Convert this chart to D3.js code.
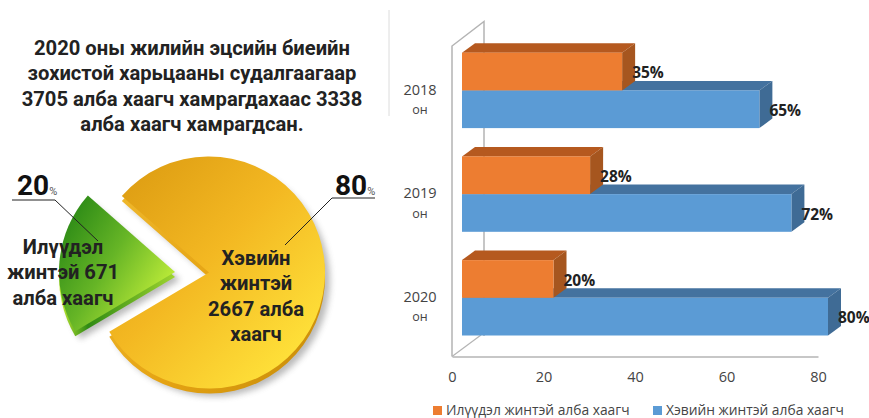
<!DOCTYPE html>
<html>
<head>
<meta charset="utf-8">
<script src="https://cdn.jsdelivr.net/npm/d3@7"></script>
<style>
html, body { margin: 0; padding: 0; background: #fff; }
svg { display: block; }
text { font-family: Roboto, sans-serif; }
</style>
</head>
<body>
<svg class="chart" width="869" height="418"></svg>
<script>
const titleLines = [
    '2020 оны жилийн эцсийн биеийн',
    'зохистой харьцааны судалгаагаар',
    '3705 алба хаагч хамрагдахаас 3338',
    'алба хаагч хамрагдсан.'
];

// pie
const pieShares = [80, 20];
const pieLabels = [
    ['Хэвийн', 'жинтэй', '2667 алба', 'хаагч'],
    ['Илүүдэл', 'жинтэй 671', 'алба хаагч']
];

// bars
const years = ['2018', '2019', '2020'];
const yearUnit = 'он';
const overweight = [35, 28, 20];
const normal = [65, 72, 80];
const xTicks = [0, 20, 40, 60, 80];
const legendLabels = ['Илүүдэл жинтэй алба хаагч', 'Хэвийн жинтэй алба хаагч'];

const svg = d3.select('.chart');
const defs = svg.append('defs');

function gradient(id, x1, y1, x2, y2, stops) {
    const g = defs.append('linearGradient').attr('id', id)
        .attr('x1', x1).attr('y1', y1).attr('x2', x2).attr('y2', y2);
    stops.forEach(s => g.append('stop').attr('offset', s[0]).attr('stop-color', s[1]));
}
gradient('yellowTop', 0.1, 0.1, 0.85, 0.9, [[0, '#df9f14'], [0.45, '#f3b822'], [1, '#ffe23a']]);
gradient('yellowSide', 0, 0, 1, 0.6, [[0, '#f0bb30'], [0.6, '#e5a313'], [1, '#cf920c']]);
gradient('greenTop', 0.1, 0.1, 1, 0.75, [[0, '#2c8a16'], [0.45, '#66b526'], [1, '#ccf53c']]);
gradient('greenSide', 0, 0, 1, 0, [[0, '#c6ee34'], [0.25, '#2f8a14'], [1, '#9ed42f']]);

const blur = defs.append('filter').attr('id', 'blur')
    .attr('x', '-20%').attr('y', '-20%').attr('width', '140%').attr('height', '140%');
blur.append('feGaussianBlur').attr('stdDeviation', 3);

// title
svg.append('g').selectAll('text')
    .data(titleLines)
    .enter().append('text')
    .attr('x', 192)
    .attr('y', (d, i) => 55 + i * 25.4)
    .attr('text-anchor', 'middle')
    .attr('font-size', 20.2)
    .attr('font-weight', 700)
    .attr('fill', '#222')
    .text(d => d);

// thin divider next to title
svg.append('line')
    .attr('x1', 389).attr('x2', 389).attr('y1', 10).attr('y2', 116)
    .attr('stroke', '#dcdcdc').attr('stroke-width', 1);

// ---- pie ----
const rad = Math.PI / 180;
const pie = d3.pie().sort(null).startAngle(-48.7 * rad).endAngle(311.3 * rad);
const arcs = pie(pieShares);
const arc = d3.arc().innerRadius(0).outerRadius(116);

const centers = [[209, 272.5], [175, 272]];
const tops = ['url(#yellowTop)', 'url(#greenTop)'];
const sides = ['url(#yellowSide)', 'url(#greenSide)'];

const slices = svg.append('g').selectAll('g')
    .data(arcs)
    .enter().append('g')
    .attr('transform', (d, i) => 'translate(' + centers[i][0] + ',' + centers[i][1] + ')');

slices.append('path')
    .attr('d', arc)
    .attr('transform', 'translate(5,8)')
    .attr('fill', '#555')
    .attr('opacity', 0.4)
    .attr('filter', 'url(#blur)');
slices.append('path')
    .attr('d', arc)
    .attr('transform', 'translate(0,5)')
    .attr('fill', (d, i) => sides[i]);
slices.append('path')
    .attr('d', arc)
    .attr('fill', (d, i) => tops[i]);

// slice captions
const captionPos = [[256, 265], [63, 254]];
svg.append('g').selectAll('text')
    .data(pieLabels.flatMap((lines, k) => lines.map((t, i) => ({ t, i, k }))))
    .enter().append('text')
    .attr('x', d => captionPos[d.k][0])
    .attr('y', d => captionPos[d.k][1] + d.i * 25.4)
    .attr('text-anchor', 'middle')
    .attr('font-size', 20.2)
    .attr('font-weight', 700)
    .attr('fill', '#222')
    .text(d => d.t);

// leader lines
const leaders = [
    [[332, 198], [375, 198], [332, 198], [285, 245]],
    [[12, 200], [55, 200], [55, 200], [98, 241]]
];
leaders.forEach(l => {
    const lines = svg.append('g').attr('stroke', '#222').attr('stroke-width', 1).attr('fill', 'none');
    lines.append('path').attr('d', d3.line()(l.slice(0, 2)));
    lines.append('path').attr('d', d3.line()(l.slice(2)));
});

// big percent labels
const pctPos = [[335, 195], [17, 195]];
pieShares.forEach((v, i) => {
    const t = svg.append('text').attr('x', pctPos[i][0]).attr('y', pctPos[i][1]).attr('fill', '#111');
    t.append('tspan').attr('font-size', 28).attr('font-weight', 700).text(v);
    t.append('tspan').attr('font-size', 11).attr('fill', '#555').text('%');
});

// ---- bars ----
const margin = { left: 452, top: 46 };
const x = d3.scaleLinear().domain([0, 80]).range([margin.left, 818]);
const y = d3.scaleBand().domain(years).range([52.7, 363.8]);

const wallX = 10;        // shift of the bars off the axis plane
const depthX = 13, depthY = 9.5;
const floorY = 356.5;
const wallTop = [484, 21.5];

// wall
svg.append('path')
    .attr('d', d3.line()([[margin.left, floorY], [margin.left, margin.top], wallTop, [wallTop[0], 336]]))
    .attr('fill', 'none').attr('stroke', '#b4b4b4').attr('stroke-width', 1.5);
svg.append('path')
    .attr('d', d3.line()([[margin.left, floorY], [481, 335]]))
    .attr('fill', 'none').attr('stroke', '#b4b4b4').attr('stroke-width', 1.2);

// x axis, years
const xAxis = d3.axisBottom(x).tickValues(xTicks).tickSize(0).tickPadding(15);
const axisG = svg.append('g')
    .attr('transform', 'translate(0,' + floorY + ')')
    .call(xAxis);
axisG.select('.domain').attr('stroke', '#b4b4b4').attr('stroke-width', 1.5);
axisG.selectAll('text').attr('font-size', 14.5).attr('fill', '#444')
    .style('font-family', '"Open Sans", sans-serif');

const barH = 37.7;
const series = [
    { values: overweight, dy: 0, front: '#ed7d31', top: '#b5591f', side: '#a6561f' },
    { values: normal, dy: barH, front: '#5b9bd5', top: '#44729f', side: '#3f6b95' }
];

function drawBars(s) {
    const g = svg.append('g').selectAll('g')
        .data(years.map((yr, i) => ({ yr, v: s.values[i] })))
        .enter().append('g');
    const left = () => x(0) + wallX;
    const right = d => x(d.v) + wallX;
    const ty = d => y(d.yr) + s.dy;
    g.append('path') // top face
        .attr('d', d => d3.line()([[left(), ty(d)], [left() + depthX, ty(d) - depthY],
            [right(d) + depthX, ty(d) - depthY], [right(d), ty(d)]]) + 'Z')
        .attr('fill', s.top);
    g.append('path') // side face
        .attr('d', d => d3.line()([[right(d), ty(d)], [right(d) + depthX, ty(d) - depthY],
            [right(d) + depthX, ty(d) - depthY + barH], [right(d), ty(d) + barH]]) + 'Z')
        .attr('fill', s.side);
    g.append('rect') // front face
        .attr('x', left())
        .attr('y', ty)
        .attr('width', d => right(d) - left())
        .attr('height', barH)
        .attr('fill', s.front);
}
// blue first, orange stands in front of its top face
drawBars(series[1]);
drawBars(series[0]);

// value labels
series.forEach(s => {
    svg.append('g').selectAll('text')
        .data(years.map((yr, i) => ({ yr, v: s.values[i] })))
        .enter().append('text')
        .attr('x', d => x(d.v) + wallX + 10)
        .attr('y', d => y(d.yr) + s.dy + 25.5)
        .attr('font-size', 15.5)
        .attr('font-weight', 700)
        .attr('fill', '#222')
        .style('font-family', '"Open Sans", sans-serif')
        .text(d => d.v + '%');
});

// year labels
const yearG = svg.append('g').selectAll('g')
    .data(years)
    .enter().append('g')
    .attr('transform', d => 'translate(420,' + y(d) + ')')
    .attr('fill', '#444')
    .style('text-anchor', 'middle');
yearG.append('text')
    .attr('y', 42)
    .attr('font-size', 14.5)
    .style('font-family', '"Open Sans", sans-serif')
    .text(d => d);
yearG.append('text')
    .attr('y', 61.3)
    .attr('font-size', 12.5)
    .style('font-family', '"Open Sans", sans-serif')
    .text(yearUnit);

// legend
const legendX = [433, 653];
const legendG = svg.append('g').selectAll('g')
    .data(legendLabels)
    .enter().append('g')
    .attr('transform', (d, i) => 'translate(' + legendX[i] + ',406)');
legendG.append('rect')
    .attr('width', 9).attr('height', 9)
    .attr('fill', (d, i) => series[i].front);
legendG.append('text')
    .attr('x', 13).attr('y', 8.5)
    .attr('font-size', 13.8)
    .attr('fill', '#444')
    .style('font-family', '"Open Sans", sans-serif')
    .text(d => d);
</script>
</body>
</html>
